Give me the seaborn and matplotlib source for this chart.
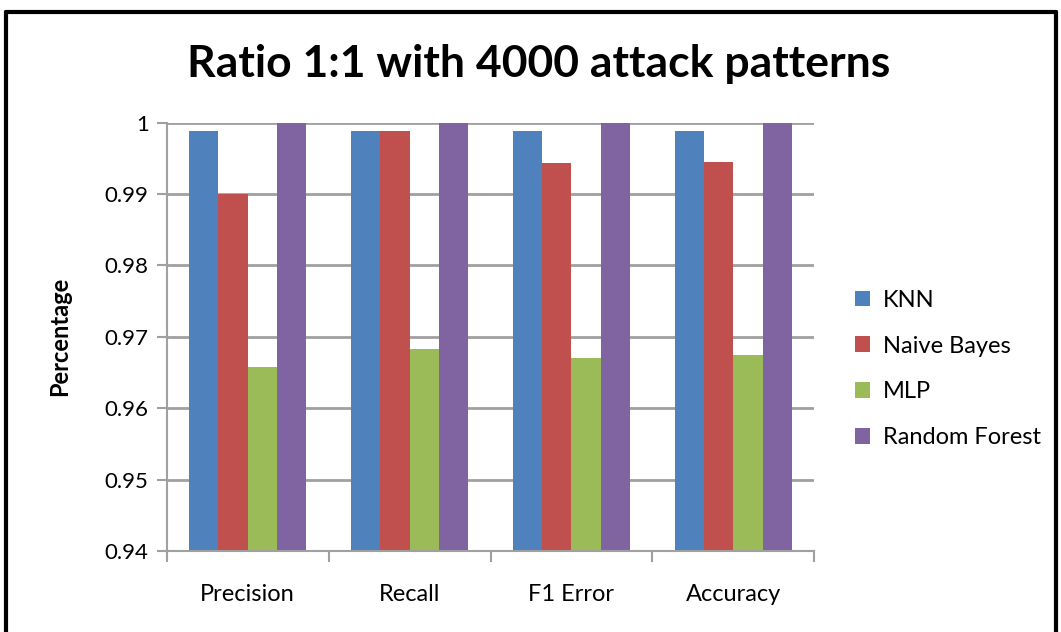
import matplotlib
matplotlib.use("Agg")
import matplotlib.pyplot as plt
import matplotlib.lines as mlines
import seaborn as sns
import pandas as pd

metrics = ["Precision", "Recall", "F1 Error", "Accuracy"]
models = ["KNN", "Naive Bayes", "MLP", "Random Forest"]
knn = [0.9989, 0.9989, 0.9989, 0.9989]
naive_bayes = [0.9900, 0.9989, 0.9944, 0.9945]
mlp = [0.9658, 0.9683, 0.9670, 0.9674]
random_forest = [1.0, 1.0, 1.0, 1.0]
y_ticks = [0.94, 0.95, 0.96, 0.97, 0.98, 0.99, 1.0]
y_tick_labels = ["0.94", "0.95", "0.96", "0.97", "0.98", "0.99", "1"]

palette = ["#4F81BD", "#C0504D", "#9BBB59", "#8064A2"]

rows = []
for name, vals in zip(models, [knn, naive_bayes, mlp, random_forest]):
    for m, v in zip(metrics, vals):
        rows.append({"Metric": m, "Model": name, "Value": v})
df = pd.DataFrame(rows)

sns.set_theme(style="white")
plt.rcParams["font.family"] = ["Lato", "DejaVu Sans"]
plt.rcParams["text.color"] = "black"
plt.rcParams["xtick.color"] = "black"
plt.rcParams["ytick.color"] = "black"
plt.rcParams["axes.labelcolor"] = "black"

fig = plt.figure(figsize=(10.61, 6.32), dpi=100)
ax = fig.add_axes([0.1571, 0.1282, 0.6104, 0.6777])

sns.barplot(data=df, x="Metric", y="Value", hue="Model", order=metrics,
            hue_order=models, palette=palette, width=0.727, saturation=1,
            linewidth=0, ax=ax, legend=True)

ax.set_ylim(0.94, 1.0)
ax.set_xlim(-0.5, 3.5)
ax.set_yticks(y_ticks)
ax.set_yticklabels(y_tick_labels, fontsize=16)
ax.yaxis.grid(True, color="#A0A0A0", linewidth=2)
ax.set_axisbelow(True)
ax.set_xlabel("")
ax.set_ylabel("Percentage", fontsize=17, fontweight="bold", labelpad=24)

for side in ["top", "right"]:
    ax.spines[side].set_visible(False)
for side in ["left", "bottom"]:
    ax.spines[side].set_color("#A0A0A0")
    ax.spines[side].set_linewidth(1.5)

# category labels centred, tick marks at the category boundaries
ax.set_xticks([0, 1, 2, 3])
ax.set_xticklabels(metrics, fontsize=17)
ax.tick_params(axis="x", length=0, pad=24)
ax.set_xticks([-0.5, 0.5, 1.5, 2.5, 3.5], minor=True)
ax.tick_params(axis="x", which="minor", length=8, width=1.5, color="#A0A0A0",
               direction="out", bottom=True)
ax.tick_params(axis="y", length=7, width=1.5, color="#A0A0A0", left=True,
               direction="out", pad=6, labelcolor="black")
ax.tick_params(axis="x", labelcolor="black")

handles, labels = ax.get_legend_handles_labels()
ax.legend(handles, labels, loc="center left", bbox_to_anchor=(1.03, 0.425),
          frameon=False, fontsize=17, handlelength=0.65, handleheight=0.65,
          labelspacing=1.05, handletextpad=0.55, labelcolor="black")

fig.suptitle("Ratio 1:1 with 4000 attack patterns", fontsize=32,
             fontweight="bold", x=0.508, y=0.93, color="black")

# outer chart border (left, top, right)
for xs, ys in [([0.006, 0.006], [0.0, 0.981]), ([0.006, 0.995], [0.981, 0.981]),
               ([0.995, 0.995], [0.0, 0.981])]:
    fig.add_artist(mlines.Line2D(xs, ys, color="black", linewidth=3,
                                 transform=fig.transFigure))

fig.savefig("out.png", dpi=100)
